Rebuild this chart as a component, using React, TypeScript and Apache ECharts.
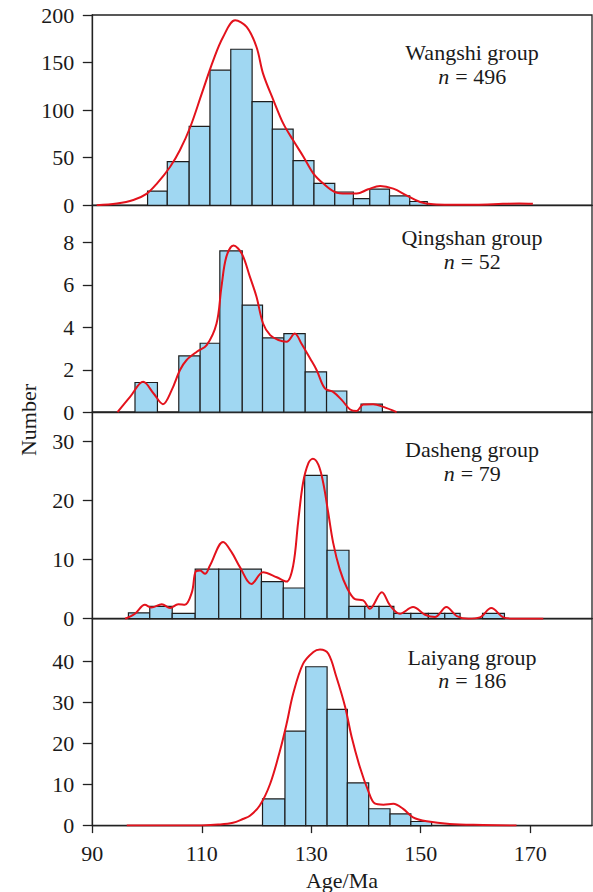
import React, { useEffect, useRef } from "react";
import * as echarts from "echarts";

// ---------- data ----------
const xTicks = [90, 110, 130, 150, 170];

// Wangshi group
const wangshiStart = [100.1, 103.7, 107.7, 111.5, 115.3, 119.2, 122.9, 126.7, 130.5, 134.3, 137.7, 140.7, 144.3, 148.0];
const wangshiEnd = [103.7, 107.7, 111.5, 115.3, 119.2, 122.9, 126.7, 130.5, 134.3, 137.7, 140.7, 144.3, 148.0, 151.2];
const wangshiCount = [15, 46, 83, 142, 164, 109, 80, 47, 23, 14, 7, 17, 10, 4];
const wangshiKdeX = [90.8, 94.5, 97.5, 99.9, 101.8, 104.2, 106.0, 107.9, 110.0, 112.1, 113.9, 116.1, 118.2, 120.0, 121.2, 123.1, 124.9, 126.7, 128.6, 130.4, 132.2, 134.3, 136.5, 138.3, 140.4, 142.6, 145.0, 147.4, 149.9, 152.3, 155.3, 160, 165, 168, 170.5];
const wangshiKdeY = [0, 1.8, 5.5, 12, 22.8, 40.3, 57.8, 82.3, 117.4, 152.4, 176.9, 194.4, 187.4, 166.4, 138.4, 110.4, 85.8, 68.3, 50.8, 33.3, 22.8, 14.0, 12.3, 12.3, 16.8, 20.3, 17.5, 10.5, 3.5, 1.0, 0.5, 0.6, 1.5, 2.0, 1.5];
const wangshiTicks = [0, 50, 100, 150, 200];

// Qingshan group
const qingshanStart = [97.8, 105.8, 109.7, 113.3, 117.4, 121.1, 125.0, 128.9, 132.8, 139.1];
const qingshanEnd = [101.9, 109.7, 113.3, 117.4, 121.1, 125.0, 128.9, 132.8, 136.5, 143.0];
const qingshanCount = [1.4, 2.65, 3.25, 7.6, 5.05, 3.5, 3.7, 1.9, 1.0, 0.38];
const qingshanKdeX = [94.6, 96.9, 99.3, 101.2, 102.9, 104.5, 106.0, 107.2, 109.1, 110.9, 112.7, 113.6, 114.5, 115.8, 117.3, 118.8, 120.0, 121.2, 122.5, 124.0, 125.5, 127.0, 128.2, 129.8, 131.0, 132.5, 134.0, 135.6, 137.1, 138.3, 139.5, 141.3, 143.2, 145.6];
const qingshanKdeY = [0, 0.72, 1.43, 0.88, 0.38, 1.04, 1.98, 2.45, 2.85, 3.16, 4.18, 5.91, 7.33, 7.85, 7.48, 6.38, 5.44, 4.18, 3.63, 3.4, 3.32, 3.71, 3.24, 2.53, 1.98, 1.12, 0.96, 0.57, 0.13, 0.06, 0.36, 0.38, 0.25, 0];
const qingshanTicks = [0, 2, 4, 6, 8];

// Dasheng group
const dashengStart = [96.6, 100.5, 104.6, 108.8, 113.1, 117.1, 120.9, 124.9, 128.8, 132.9, 136.9, 139.8, 142.4, 145.1, 148.2, 151.4, 154.4, 161.3];
const dashengEnd = [100.5, 104.6, 108.8, 113.1, 117.1, 120.9, 124.9, 128.8, 132.9, 136.9, 139.8, 142.4, 145.1, 148.2, 151.4, 154.4, 157.2, 165.3];
const dashengCount = [1.0, 2.1, 0.9, 8.4, 8.4, 8.4, 6.3, 5.2, 24.3, 11.6, 2.1, 2.1, 2.1, 0.9, 0.9, 0.9, 0.9, 0.9];
const dashengKdeX = [96.0, 97.8, 99.6, 100.8, 102.7, 104.2, 105.7, 106.9, 108.2, 108.9, 109.7, 110.6, 111.5, 113.9, 115.5, 117.0, 119.1, 121.2, 123.7, 125.5, 126.7, 127.6, 128.5, 129.5, 130.3, 131.3, 132.2, 133.1, 134.0, 135.2, 136.5, 138.0, 139.5, 140.7, 142.9, 144.4, 146.2, 148.6, 150.8, 152.6, 154.7, 156.6, 158.7, 160.8, 162.9, 165.1, 166.9, 172.4];
const dashengKdeY = [0, 0.84, 2.36, 1.9, 2.47, 1.8, 2.47, 2.36, 4.5, 8.0, 8.15, 7.6, 9.0, 13.0, 11.2, 8.7, 5.9, 7.87, 7.03, 6.3, 9.0, 16.3, 23.0, 26.4, 27.1, 26.1, 23.0, 18.0, 12.9, 8.4, 5.3, 3.3, 3.1, 1.7, 4.5, 2.25, 0.84, 1.97, 0.67, 0.28, 1.97, 0.45, 0, 0.22, 1.8, 0.22, 0, 0];
const dashengTicks = [0, 10, 20, 30];

// Laiyang group
const laiyangStart = [121.1, 125.2, 129.0, 132.9, 136.6, 140.5, 144.4, 148.2];
const laiyangEnd = [125.2, 129.0, 132.9, 136.6, 140.5, 144.4, 148.2, 152.0];
const laiyangCount = [6.5, 23, 38.7, 28.3, 10.4, 4.1, 2.85, 1.0];
const laiyangKdeX = [96.3, 105, 110, 113, 115.7, 117.5, 118.8, 120.6, 122.5, 124.3, 125.5, 126.7, 128.5, 130.4, 131.6, 133.1, 134.6, 136.2, 137.4, 138.9, 140.4, 141.6, 143.2, 145.0, 146.8, 148.6, 151.1, 155.3, 161.4, 167.5];
const laiyangKdeY = [0, 0, 0.05, 0.25, 0.7, 1.6, 2.4, 4.9, 10.2, 18.3, 24.8, 32.1, 39.4, 42.3, 42.9, 41.9, 36.2, 28.9, 21.5, 14.2, 8.5, 5.4, 5.1, 5.3, 4.07, 2.03, 1.06, 0.4, 0.16, 0];
const laiyangTicks = [0, 10, 20, 30, 40];

const panelNames = ["Wangshi group", "Qingshan group", "Dasheng group", "Laiyang group"];
const panelN = [496, 52, 79, 186];

// ---------- layout / style ----------
const FONT = "'Liberation Serif', 'Times New Roman', serif";
const TEXT = "#1a1a1a";
const AXIS = "#222";
const BAR_FILL = "#a0d7f2";
const BAR_STROKE = "#1e1e1e";
const KDE = "#e3121c";
const X_MIN = 90;
const X_MAX = 181.3;
const PANEL_TOPS = [15, 205.3, 412.2, 618.7];
const PANEL_BOTTOMS = [205.3, 412.2, 618.7, 825.6];
const Y_MAX = [200, 9.75, 35, 50.4];
const LEFT = 92.3;
const WIDTH = 593;
const HEIGHT = 892;

function zip(a: number[], b: number[], c?: number[]) {
  return a.map((v, i) => (c ? [v, b[i], c[i]] : [v, b[i]]));
}

function measure(text: string, italic: boolean) {
  const ctx = document.createElement("canvas").getContext("2d");
  if (!ctx) return text.length * 10;
  ctx.font = (italic ? "italic " : "") + "22px " + FONT;
  return ctx.measureText(text).width;
}

export default function App() {
  const ref = useRef<HTMLDivElement>(null);
  useEffect(() => {
    if (!ref.current) return;
    const chart = echarts.init(ref.current, null, { renderer: "svg" });
    const hists = [
      zip(wangshiStart, wangshiEnd, wangshiCount),
      zip(qingshanStart, qingshanEnd, qingshanCount),
      zip(dashengStart, dashengEnd, dashengCount),
      zip(laiyangStart, laiyangEnd, laiyangCount),
    ];
    const kdes = [
      zip(wangshiKdeX, wangshiKdeY),
      zip(qingshanKdeX, qingshanKdeY),
      zip(dashengKdeX, dashengKdeY),
      zip(laiyangKdeX, laiyangKdeY),
    ];
    const yTicks = [wangshiTicks, qingshanTicks, dashengTicks, laiyangTicks];

    const grid = PANEL_TOPS.map((t, i) => ({
      left: LEFT,
      top: t,
      width: WIDTH - 1 - LEFT,
      height: PANEL_BOTTOMS[i] - t,
      show: true,
      borderColor: AXIS,
      borderWidth: 1.3,
      backgroundColor: "transparent",
    }));
    const xAxis = grid.map((_, i) => ({
      type: "value",
      gridIndex: i,
      min: X_MIN,
      max: X_MAX,
      interval: 20,
      splitLine: { show: false },
      axisLine: { show: true, lineStyle: { color: AXIS, width: 1.3 } },
      axisTick: {
        show: i === 3,
        length: 7.5,
        customValues: xTicks,
        lineStyle: { color: AXIS, width: 1.3 },
      },
      axisLabel: {
        show: i === 3,
        customValues: xTicks,
        fontFamily: FONT,
        fontSize: 22,
        color: TEXT,
        margin: 17,
      },
    }));
    const yAxis = grid.map((_, i) => ({
      type: "value",
      gridIndex: i,
      min: 0,
      max: Y_MAX[i],
      splitLine: { show: false },
      axisLine: { show: true, lineStyle: { color: AXIS, width: 1.3 } },
      axisTick: {
        show: true,
        length: 9.5,
        customValues: yTicks[i],
        lineStyle: { color: AXIS, width: 1.3 },
      },
      axisLabel: {
        show: true,
        customValues: yTicks[i],
        fontFamily: FONT,
        fontSize: 22,
        color: TEXT,
        margin: 18,
      },
    }));
    const series: any[] = [];
    hists.forEach((data, i) => {
      series.push({
        type: "custom",
        xAxisIndex: i,
        yAxisIndex: i,
        data,
        encode: { x: [0, 1], y: 2 },
        z: 2,
        renderItem: (_p: any, api: any) => {
          const a = api.coord([api.value(0), api.value(2)]);
          const b = api.coord([api.value(1), 0]);
          return {
            type: "rect",
            shape: { x: a[0], y: a[1], width: b[0] - a[0], height: b[1] - a[1] },
            style: { fill: BAR_FILL, stroke: BAR_STROKE, lineWidth: 1.2 },
          };
        },
      });
    });
    kdes.forEach((data, i) => {
      series.push({
        type: "line",
        xAxisIndex: i,
        yAxisIndex: i,
        data,
        smooth: 0.35,
        showSymbol: false,
        symbol: "none",
        z: 5,
        lineStyle: { color: KDE, width: 2 },
      });
    });
    const nameY = [52, 237, 449, 657];
    const nY = [76, 261, 473, 680];
    const CX = 472;
    const graphic: any[] = [];
    panelNames.forEach((name, i) => {
      graphic.push({
        type: "text",
        x: CX,
        y: nameY[i],
        style: {
          text: name,
          fontFamily: FONT,
          fontSize: 22,
          fill: TEXT,
          align: "center",
          verticalAlign: "middle",
        },
      });
      const rest = " = " + panelN[i];
      const wn = measure("n", true);
      const wr = measure(rest, false);
      const x0 = CX - (wn + wr) / 2;
      graphic.push({
        type: "text",
        x: x0,
        y: nY[i],
        style: {
          text: "n",
          fontFamily: FONT,
          fontSize: 22,
          fontStyle: "italic",
          fill: TEXT,
          align: "left",
          verticalAlign: "middle",
        },
      });
      graphic.push({
        type: "text",
        x: x0 + wn + 0.5,
        y: nY[i],
        style: {
          text: rest,
          fontFamily: FONT,
          fontSize: 22,
          fill: TEXT,
          align: "left",
          verticalAlign: "middle",
        },
      });
    });
    graphic.push({
      type: "text",
      x: 28,
      y: 420,
      rotation: Math.PI / 2,
      style: {
        text: "Number",
        fontFamily: FONT,
        fontSize: 22,
        fill: TEXT,
        align: "center",
        verticalAlign: "middle",
      },
    });
    graphic.push({
      type: "text",
      x: 342,
      y: 880,
      style: {
        text: "Age/Ma",
        fontFamily: FONT,
        fontSize: 22,
        fill: TEXT,
        align: "center",
        verticalAlign: "middle",
      },
    });
    chart.setOption({
      animation: false,
      backgroundColor: "#ffffff",
      grid,
      xAxis,
      yAxis,
      series,
      graphic,
    });
    return () => chart.dispose();
  }, []);
  return (
    <div
      ref={ref}
      style={{ position: "absolute", left: 0, top: 0, width: WIDTH, height: HEIGHT }}
    />
  );
}
